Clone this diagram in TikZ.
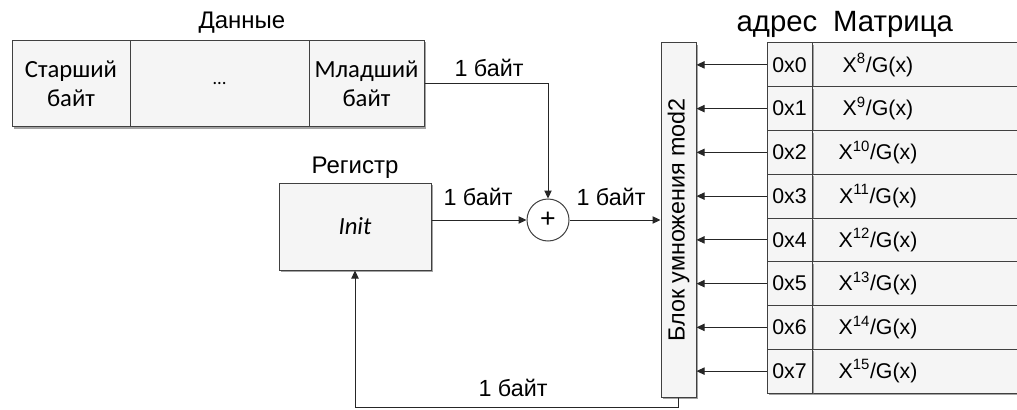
\documentclass[tikz,border=0pt]{standalone}
\usepackage{fontspec}
\setmainfont{Liberation Sans}
\newfontfamily\calfont{Carlito}
\usetikzlibrary{arrows.meta,shadows}
\newcommand{\pxu}{0.75pt}
\begin{document}
\begin{tikzpicture}[x=0.75pt,y=-0.75pt,
  box/.style={draw=black!75, line width=0.75pt, fill=black!4,
    drop shadow={shadow xshift=1.5pt,shadow yshift=-1.5pt,fill=black!60,opacity=0.6},
    inner sep=0pt, align=center},
  wire/.style={draw=black!85, line width=0.75pt},
  arr/.style={wire, -{Triangle[length=6pt,width=5.5pt]}},
  lab/.style={font=\fontsize{17.5}{21}\selectfont, inner sep=0pt},
  big/.style={font=\fontsize{22}{26}\selectfont, inner sep=0pt, anchor=base},
  cal/.style={font=\calfont\fontsize{18.5}{22}\selectfont},
  mtx/.style={font=\fontsize{16}{19}\selectfont}]
\useasboundingbox (0,0) rectangle (1017,410);
\clip (0,0) rectangle (1017,410);
% data
\node[box, cal, minimum width=118*\pxu, minimum height=86*\pxu] (old) at (71,83.5) {Старший\\байт};
\node[box, minimum width=179*\pxu, minimum height=86*\pxu, font=\calfont\fontsize{14}{16}\selectfont] (mid) at (219.5,83.5) {…};
\node[box, cal, minimum width=115*\pxu, minimum height=86*\pxu] (new) at (366.5,83.5) {Младший\\байт};
\node[lab, anchor=base, font=\fontsize{18}{21}\selectfont] (tdata) at (242,29) {Данные};
% register
\node[box, cal, minimum width=152*\pxu, minimum height=87*\pxu] (reg) at (355,226.5) {\itshape Init};
\node[lab, anchor=base, font=\fontsize{18}{21}\selectfont] (treg) at (355,173) {Регистр};
% sum
\node[circle, draw=black!75, line width=0.75pt, fill=white, minimum size=42*\pxu, inner sep=0pt, font=\fontsize{20}{22}\selectfont] (sum) at (548,220) {+};
% block
\node[box, minimum width=35*\pxu, minimum height=354*\pxu] (blk) at (678.5,220) {};
\node[lab, rotate=90] (tblk) at (blk.center) {Блок умножения mod2};
% matrix
\node[big] (taddr) at (777,32) {адрес};
\node[big] (tmat) at (893,32) {Матрица};
\foreach \i/\e in {0/8,1/9,2/10,3/11,4/12,5/13,6/14,7/15}{
  \node[box, mtx, minimum width=240*\pxu, minimum height=43.75*\pxu] (v\i) at (932,{43+43.75*(\i+0.5)}) {};
  \node[box, mtx, minimum width=45*\pxu, minimum height=43.75*\pxu] (a\i) at (789.5,{43+43.75*(\i+0.5)}) {0x\i};
  \node[mtx, inner sep=0pt] (t\i) at (878,{43+43.75*(\i+0.5)}) {X\textsuperscript{\e}/G(x)};
  \draw[arr] (a\i.west) -- (a\i.west -| blk.east);
}
% connectors
\draw[arr] (new.east) -| (sum.north);
\draw[arr] (reg.east |- sum.west) -- (sum.west);
\draw[arr] (sum.east) -- (sum.east -| blk.west);
\coordinate (fb) at (678.5,407);
\draw[arr] (blk.south) -- (fb) -| (reg.south);
% labels
\node[lab] (l1) at (489,68) {1 байт};
\node[lab] (l2) at (478,197) {1 байт};
\node[lab] (l3) at (611,197) {1 байт};
\node[lab] (l4) at (513,388) {1 байт};
\end{tikzpicture}
\end{document}
